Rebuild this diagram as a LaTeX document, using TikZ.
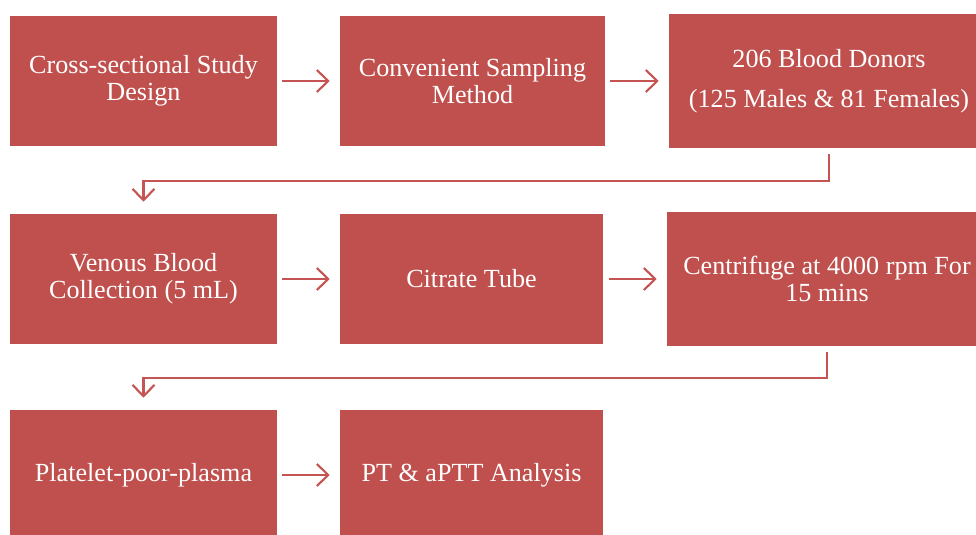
\documentclass[tikz,border=0pt]{standalone}
\usepackage{fontspec}
\setmainfont{Liberation Serif}
\usetikzlibrary{arrows.meta}
\definecolor{boxred}{HTML}{C0504D}
\definecolor{linered}{HTML}{C55552}
\tikzset{
  stepbox/.style={rectangle, fill=boxred, text=white, align=center, inner sep=2pt,
    font=\fontsize{19.6}{20.25}\selectfont},
  conn/.style={draw=linered, line width=1.6pt, -{Straight Barb[length=8.5pt,width=16.5pt,line width=1.6pt]}}
}
\begin{document}
\begin{tikzpicture}[x=0.75pt,y=-0.75pt]
    \useasboundingbox (0,0) rectangle (976,535);
    \clip (0,0) rectangle (976,535);
    % row 1
    \node[stepbox, minimum width=200.25pt, minimum height=97.5pt] (design) at (143.5,81) {Cross-sectional Study\\Design};
    \node[stepbox, minimum width=198.75pt, minimum height=97.5pt] (sampling) at (472.5,81) {Convenient Sampling\\Method};
    \node[stepbox, minimum width=240pt, minimum height=100.5pt] (donors) at (829,81) {206 Blood Donors\\[9.5pt](125 Males \& 81 Females)};
    % row 2
    \node[stepbox, minimum width=200.25pt, minimum height=97.5pt] (venous) at (143.5,279) {Venous Blood\\Collection (5 mL)};
    \node[stepbox, minimum width=197.25pt, minimum height=97.5pt] (citrate) at (471.5,279) {Citrate Tube};
    \node[stepbox, minimum width=240pt, minimum height=100.5pt] (centri) at (827,279) {Centrifuge at 4000 rpm For\\15 mins};
    % row 3
    \node[stepbox, minimum width=200.25pt, minimum height=97.5pt] (ppp) at (143.5,475) {Platelet-poor-plasma};
    \node[stepbox, minimum width=197.25pt, minimum height=97.5pt] (analysis) at (471.5,475) {PT \& aPTT Analysis};
    % connectors
    \draw[conn, shorten <=3.75pt, shorten >=7.5pt] (design) -- (sampling);
    \draw[conn, shorten <=3.75pt, shorten >=7.5pt] (sampling) -- (sampling -| donors.west);
    \draw[conn, shorten <=4.5pt, shorten >=9pt] (donors.south) -- ++(0,33) -| (venous.north);
    \draw[conn, shorten <=3.75pt, shorten >=7.5pt] (venous) -- (citrate);
    \draw[conn, shorten <=4.5pt, shorten >=7.5pt] (citrate) -- (citrate -| centri.west);
    \draw[conn, shorten <=4.5pt, shorten >=9pt] (centri.south) -- ++(0,32) -| (ppp.north);
    \draw[conn, shorten <=3.75pt, shorten >=7.5pt] (ppp) -- (analysis);
\end{tikzpicture}
\end{document}
